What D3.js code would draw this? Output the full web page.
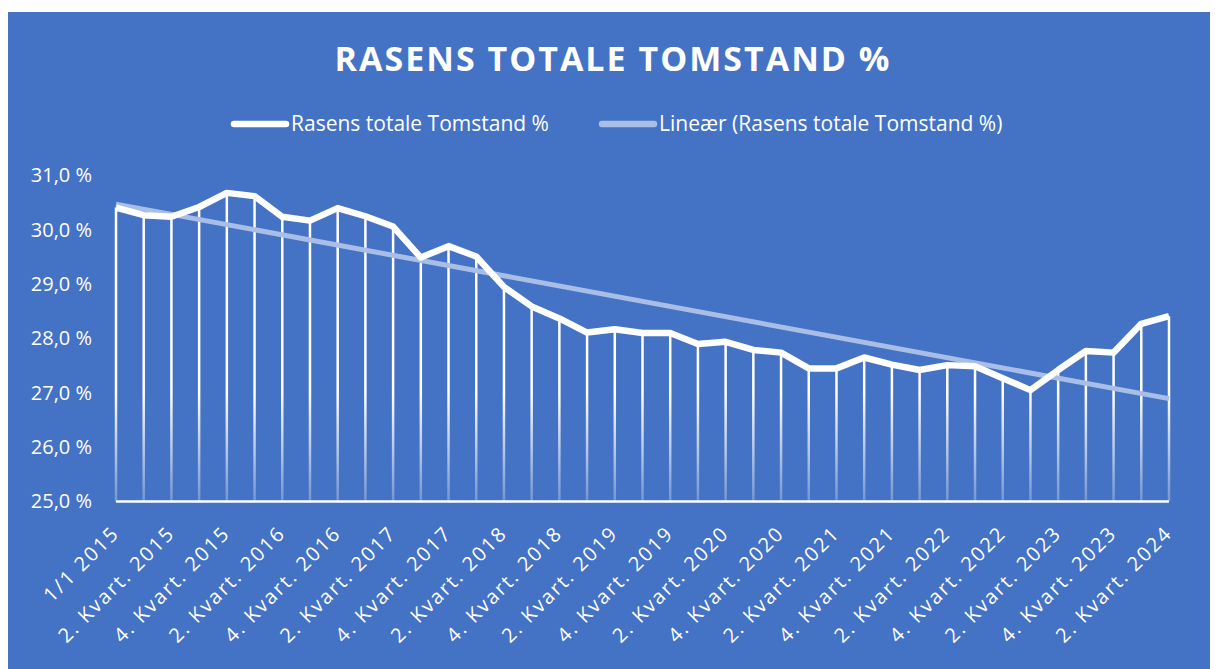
<!DOCTYPE html>
<html>
<head>
<meta charset="utf-8">
<script src="https://cdnjs.cloudflare.com/ajax/libs/d3/7.8.5/d3.min.js"></script>
<style>
  body { margin: 0; background: #fff; }
  svg text { font-family: "Open Sans", "DejaVu Sans", sans-serif; fill: #fff; }
</style>
</head>
<body>
<svg id="chart"></svg>
<script>
// Chart size
const width = 1215;
const height = 669;

// Data
const categories = [
    "1/1 2015", "1. Kvart. 2015", "2. Kvart. 2015", "3. Kvart. 2015", "4. Kvart. 2015",
    "1. Kvart. 2016", "2. Kvart. 2016", "3. Kvart. 2016", "4. Kvart. 2016",
    "1. Kvart. 2017", "2. Kvart. 2017", "3. Kvart. 2017", "4. Kvart. 2017",
    "1. Kvart. 2018", "2. Kvart. 2018", "3. Kvart. 2018", "4. Kvart. 2018",
    "1. Kvart. 2019", "2. Kvart. 2019", "3. Kvart. 2019", "4. Kvart. 2019",
    "1. Kvart. 2020", "2. Kvart. 2020", "3. Kvart. 2020", "4. Kvart. 2020",
    "1. Kvart. 2021", "2. Kvart. 2021", "3. Kvart. 2021", "4. Kvart. 2021",
    "1. Kvart. 2022", "2. Kvart. 2022", "3. Kvart. 2022", "4. Kvart. 2022",
    "1. Kvart. 2023", "2. Kvart. 2023", "3. Kvart. 2023", "4. Kvart. 2023",
    "1. Kvart. 2024", "2. Kvart. 2024"
];
const tomstand = [
    30.41, 30.27, 30.24, 30.42, 30.68, 30.62, 30.24, 30.17, 30.40, 30.25,
    30.06, 29.49, 29.70, 29.51, 28.95, 28.59, 28.37, 28.11, 28.17, 28.10,
    28.10, 27.90, 27.94, 27.79, 27.74, 27.45, 27.45, 27.65, 27.52, 27.42,
    27.51, 27.49, 27.27, 27.05, 27.42, 27.77, 27.74, 28.27, 28.41
];
const yTicks = [25, 26, 27, 28, 29, 30, 31];
const seriesName = "Rasens totale Tomstand %";
const trendName = "Lineær (Rasens totale Tomstand %)";

const bg = "#4472C4";
const trendColor = "#A9BEE6";

const svg = d3.select("#chart")
    .attr("width", width)
    .attr("height", height);

// Chart area background
svg.append("rect")
    .attr("x", 8).attr("y", 12)
    .attr("width", 1202).attr("height", height - 12)
    .attr("fill", bg);

// Title
svg.append("text")
    .attr("x", 613).attr("y", 71)
    .attr("text-anchor", "middle")
    .style("font-size", "34px")
    .style("font-weight", "bold")
    .style("letter-spacing", "2px")
    .text("RASENS TOTALE TOMSTAND %");

// Scales
const x = d3.scalePoint()
    .domain(categories)
    .range([116, 1169]);

const y = d3.scaleLinear()
    .domain([25, 31])
    .range([501.5, 175.5]);

// Drop lines fade out toward the base
const grad = svg.append("defs").append("linearGradient")
    .attr("id", "dropFade")
    .attr("gradientUnits", "userSpaceOnUse")
    .attr("x1", 0).attr("x2", 0)
    .attr("y1", y(27)).attr("y2", y(25));
grad.append("stop").attr("offset", 0).attr("stop-color", "#fff").attr("stop-opacity", 1);
grad.append("stop").attr("offset", 1).attr("stop-color", "#fff").attr("stop-opacity", 0.25);

svg.append("g")
    .selectAll("line")
    .data(tomstand)
    .join("line")
    .attr("x1", (d, i) => x(categories[i]))
    .attr("x2", (d, i) => x(categories[i]))
    .attr("y1", d => y(d))
    .attr("y2", y(25))
    .attr("stroke", "url(#dropFade)")
    .attr("stroke-width", 2.5);

// Y axis
const yAxis = svg.append("g")
    .attr("transform", "translate(92,0)")
    .call(d3.axisLeft(y)
        .tickValues(yTicks)
        .tickSize(0)
        .tickPadding(0)
        .tickFormat(d => d.toFixed(1).replace(".", ",") + " %"));
yAxis.select(".domain").remove();
yAxis.selectAll("text")
    .style("font-size", "20px")
    .attr("fill", "#fff");

// X axis base line
svg.append("line")
    .attr("x1", 116).attr("x2", 1169)
    .attr("y1", y(25)).attr("y2", y(25))
    .attr("stroke", "#fff")
    .attr("stroke-width", 2.5);

// X labels, every second category
const xAxis = svg.append("g")
    .attr("transform", `translate(0,${y(25)})`)
    .call(d3.axisBottom(x)
        .tickValues(categories.filter((c, i) => i % 2 === 0))
        .tickSize(0)
        .tickPadding(0));
xAxis.select(".domain").remove();
xAxis.selectAll("text")
    .style("font-size", "20px")
    .style("letter-spacing", "2px")
    .attr("fill", "#fff")
    .attr("text-anchor", "end")
    .attr("transform", "translate(4,33) rotate(-45)")
    .attr("dy", 0)
    .attr("y", 0);

// Linear trend (least squares over the series)
const n = tomstand.length;
const idx = d3.range(n);
const mx = d3.mean(idx);
const my = d3.mean(tomstand);
const slope = d3.sum(idx, i => (i - mx) * (tomstand[i] - my)) / d3.sum(idx, i => (i - mx) ** 2);
const icept = my - slope * mx;

svg.append("line")
    .attr("x1", x(categories[0]))
    .attr("x2", x(categories[n - 1]))
    .attr("y1", y(icept))
    .attr("y2", y(icept + slope * (n - 1)))
    .attr("stroke", trendColor)
    .attr("stroke-width", 5);

// Main series
const line = d3.line()
    .x((d, i) => x(categories[i]))
    .y(d => y(d));

svg.append("path")
    .datum(tomstand)
    .attr("d", line)
    .attr("fill", "none")
    .attr("stroke", "#fff")
    .attr("stroke-width", 6.5)
    .attr("stroke-linejoin", "round");

// Legend
const legend = [
    { name: seriesName, color: "#fff", x: 232 },
    { name: trendName, color: trendColor, x: 600 }
];
const lg = svg.append("g").selectAll("g")
    .data(legend)
    .join("g")
    .attr("transform", d => `translate(${d.x},124)`);
lg.append("line")
    .attr("x1", 2).attr("x2", 54)
    .attr("stroke", d => d.color)
    .attr("stroke-width", 6.5)
    .attr("stroke-linecap", "round");
lg.append("text")
    .attr("x", 59)
    .attr("dy", "0.35em")
    .style("font-size", "21px")
    .text(d => d.name);
</script>
</body>
</html>
